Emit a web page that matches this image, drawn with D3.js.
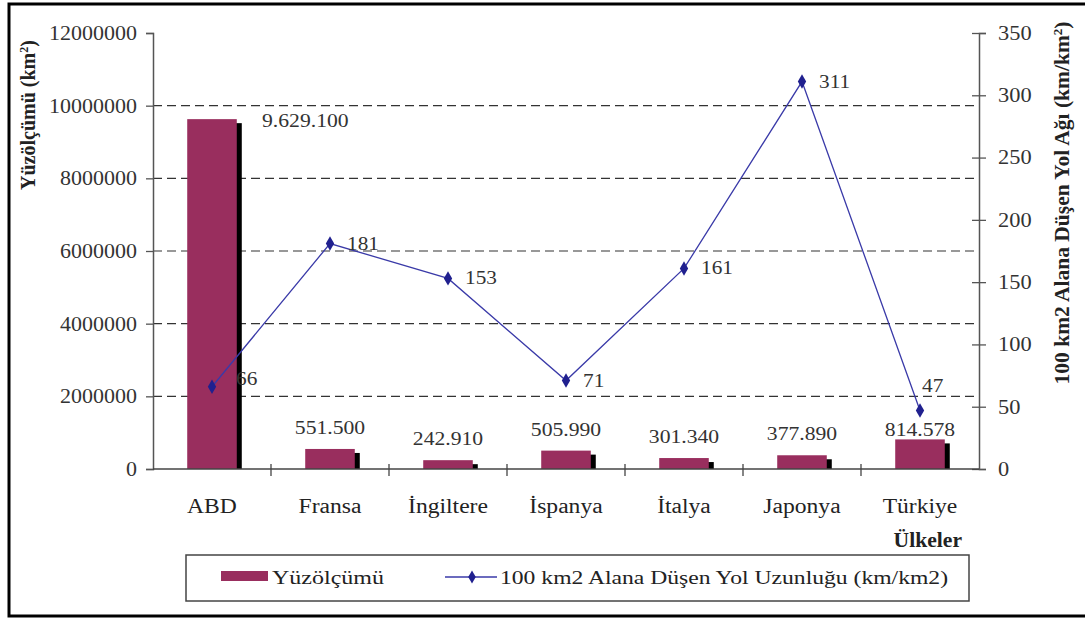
<!DOCTYPE html>
<html>
<head>
<meta charset="utf-8">
<script src="https://cdn.jsdelivr.net/npm/d3@7/dist/d3.min.js"></script>
<style>
  html, body { margin: 0; padding: 0; background: #fff; }
  svg { display: block; font-family: "Liberation Serif", "Times New Roman", serif; }
</style>
</head>
<body>
<svg id="chart" width="1085" height="621"></svg>
<script>
// Countries, land area (km²) and road length per 100 km² (km/km²)
const countries = ["ABD", "Fransa", "İngiltere", "İspanya", "İtalya", "Japonya", "Türkiye"];
const areaValues = [9629100, 551500, 242910, 505990, 301340, 377890, 814578];
const areaLabels = ["9.629.100", "551.500", "242.910", "505.990", "301.340", "377.890", "814.578"];
const roadDensity = [66, 181, 153, 71, 161, 311, 47];
const leftTicks = [0, 2000000, 4000000, 6000000, 8000000, 10000000, 12000000];
const rightTicks = [0, 50, 100, 150, 200, 250, 300, 350];

const svg = d3.select("#chart");
const plot = { left: 153, right: 979, top: 33, bottom: 469 };
const barColor = "#992e5e";
const lineColor = "#3a3aa8";
const markColor = "#20208f";

// widen glyphs a little (the serif face here is narrower than the one used in print)
function stretch(sel, k) {
  sel.each(function () {
    const w = this.getComputedTextLength();
    this.setAttribute("textLength", (w * k).toFixed(1));
    this.setAttribute("lengthAdjust", "spacingAndGlyphs");
  });
}

const x = d3.scaleBand().domain(countries).range([plot.left, plot.right]).paddingInner(0).paddingOuter(0);
const yL = d3.scaleLinear().domain([0, 12000000]).range([plot.bottom, plot.top]);
const yR = d3.scaleLinear().domain([0, 350]).range([plot.bottom, plot.top]);

// outer frame
svg.append("rect").attr("x", 9).attr("y", 4).attr("width", 1100).attr("height", 612)
  .attr("fill", "none").attr("stroke", "#000").attr("stroke-width", 3);

// dashed horizontal gridlines at the left-axis ticks
svg.append("g").selectAll("line")
  .data(leftTicks.filter(d => d > 0 && d < 12000000))
  .join("line")
  .attr("x1", plot.left).attr("x2", plot.right)
  .attr("y1", d => yL(d)).attr("y2", d => yL(d))
  .attr("stroke", "#333").attr("stroke-width", 1.2).attr("stroke-dasharray", "9,5");

// bars with a black drop shadow
const barW = x.bandwidth() * 0.42;
const bars = svg.append("g");
bars.selectAll("rect.shadow").data(countries).join("rect")
  .attr("class", "shadow")
  .attr("x", d => x(d) + (x.bandwidth() - barW) / 2 + 5)
  .attr("y", (d, i) => Math.min(yL(areaValues[i]) + 4, plot.bottom))
  .attr("width", barW)
  .attr("height", (d, i) => Math.max(0, plot.bottom - yL(areaValues[i]) - 4))
  .attr("fill", "#000");
bars.selectAll("rect.bar").data(countries).join("rect")
  .attr("class", "bar")
  .attr("x", d => x(d) + (x.bandwidth() - barW) / 2)
  .attr("y", (d, i) => yL(areaValues[i]))
  .attr("width", barW)
  .attr("height", (d, i) => plot.bottom - yL(areaValues[i]))
  .attr("fill", barColor);

// left axis
const gL = svg.append("g").attr("transform", `translate(${plot.left},0)`)
  .call(d3.axisLeft(yL).tickValues(leftTicks).tickSize(7).tickPadding(9).tickFormat(d => String(d)));
gL.select(".domain").attr("stroke", "#555").attr("stroke-width", 1.5);
gL.selectAll(".tick line").attr("stroke", "#555").attr("stroke-width", 1.3).attr("x2", -7).attr("x1", 1);
gL.selectAll(".tick text").attr("font-family", "Liberation Serif").attr("font-size", 20).attr("fill", "#333");
stretch(gL.selectAll(".tick text"), 1.1);

// right axis
const gR = svg.append("g").attr("transform", `translate(${plot.right},0)`)
  .call(d3.axisRight(yR).tickValues(rightTicks).tickSize(7).tickPadding(12));
gR.select(".domain").attr("stroke", "#555").attr("stroke-width", 1.5);
gR.selectAll(".tick line").attr("stroke", "#555").attr("stroke-width", 1.3).attr("x1", -7).attr("x2", 7);
gR.selectAll(".tick text").attr("font-family", "Liberation Serif").attr("font-size", 20).attr("fill", "#333");
stretch(gR.selectAll(".tick text"), 1.12);

// category axis
const gX = svg.append("g");
gX.append("line").attr("x1", plot.left).attr("x2", plot.right)
  .attr("y1", plot.bottom).attr("y2", plot.bottom)
  .attr("stroke", "#444").attr("stroke-width", 1.6);
gX.selectAll("line.tk").data(countries.slice(1)).join("line")
  .attr("class", "tk")
  .attr("x1", d => x(d)).attr("x2", d => x(d))
  .attr("y1", plot.bottom - 5).attr("y2", plot.bottom + 7)
  .attr("stroke", "#444").attr("stroke-width", 1.3);
const xLabels = gX.selectAll("text").data(countries).join("text")
  .attr("x", d => x(d) + x.bandwidth() / 2)
  .attr("y", 513)
  .attr("text-anchor", "middle")
  .attr("font-size", 20).attr("fill", "#222")
  .text(d => d);
stretch(xLabels, 1.18);

// bar value labels
const areaLabelPos = (i) => {
  const cx = x(countries[i]) + x.bandwidth() / 2;
  const top = yL(areaValues[i]);
  if (i === 0) return { x: cx + 50, y: top + 8, anchor: "start" };
  if (i === 6) return { x: cx, y: top - 3, anchor: "middle" };
  return { x: cx, y: top - 15, anchor: "middle" };
};
const areaText = svg.append("g").selectAll("text").data(areaLabels).join("text")
  .attr("x", (d, i) => areaLabelPos(i).x)
  .attr("y", (d, i) => areaLabelPos(i).y)
  .attr("text-anchor", (d, i) => areaLabelPos(i).anchor)
  .attr("font-size", 19).attr("fill", "#333")
  .text(d => d);
stretch(areaText, 1.14);

// road density line
const line = d3.line()
  .x((d, i) => x(countries[i]) + x.bandwidth() / 2)
  .y(d => yR(d));
svg.append("path").datum(roadDensity)
  .attr("d", line).attr("fill", "none")
  .attr("stroke", lineColor).attr("stroke-width", 1.3);
svg.append("g").selectAll("path").data(roadDensity).join("path")
  .attr("transform", (d, i) => `translate(${x(countries[i]) + x.bandwidth() / 2},${yR(d)})`)
  .attr("d", d3.symbol().type(d3.symbolDiamond).size(60))
  .attr("fill", markColor);

// road density labels
const roadLabelPos = (i) => {
  const px = x(countries[i]) + x.bandwidth() / 2;
  const py = yR(roadDensity[i]);
  if (i === 0) return { x: px + 24, y: py - 2 };
  if (i === 6) return { x: px + 2, y: py - 18 };
  return { x: px + 17, y: py + 6 };
};
const roadText = svg.append("g").selectAll("text").data(roadDensity).join("text")
  .attr("x", (d, i) => roadLabelPos(i).x)
  .attr("y", (d, i) => roadLabelPos(i).y)
  .attr("font-size", 19).attr("fill", "#333")
  .text(d => d);
stretch(roadText, 1.12);

// axis titles
const tL = svg.append("text")
  .attr("transform", "translate(35,115) rotate(-90)")
  .attr("text-anchor", "middle")
  .attr("font-size", 20).attr("font-weight", "bold").attr("fill", "#222");
tL.append("tspan").text("Yüzölçümü (km");
tL.append("tspan").attr("dy", -7).attr("font-size", 12).text("2");
tL.append("tspan").attr("dy", 7).text(")");

const tR = svg.append("text")
  .attr("transform", "translate(1069,203) rotate(-90)")
  .attr("text-anchor", "middle")
  .attr("font-size", 21.5).attr("font-weight", "bold").attr("fill", "#222");
tR.append("tspan").text("100 km2 Alana Düşen Yol Ağı (km/km");
tR.append("tspan").attr("dy", -7).attr("font-size", 13).text("2");
tR.append("tspan").attr("dy", 7).text(")");

const countryTitle = svg.append("text").attr("x", 962).attr("y", 547).attr("text-anchor", "end")
  .attr("font-size", 20).attr("font-weight", "bold").attr("fill", "#222")
  .text("Ülkeler");
stretch(countryTitle, 1.08);

// legend
const lg = svg.append("g");
lg.append("rect").attr("x", 186).attr("y", 555).attr("width", 783).attr("height", 46)
  .attr("fill", "#fff").attr("stroke", "#444").attr("stroke-width", 1.5);
lg.append("rect").attr("x", 221).attr("y", 571).attr("width", 47).attr("height", 10).attr("fill", barColor);
lg.append("text").attr("x", 272).attr("y", 584).attr("font-size", 19).attr("fill", "#222")
  .attr("textLength", 112).attr("lengthAdjust", "spacingAndGlyphs")
  .text("Yüzölçümü");
lg.append("line").attr("x1", 445).attr("x2", 497).attr("y1", 577).attr("y2", 577)
  .attr("stroke", lineColor).attr("stroke-width", 1.5);
lg.append("path").attr("transform", "translate(472,577)")
  .attr("d", d3.symbol().type(d3.symbolDiamond).size(50)).attr("fill", markColor);
lg.append("text").attr("x", 500).attr("y", 584).attr("font-size", 19).attr("fill", "#222")
  .attr("textLength", 448).attr("lengthAdjust", "spacingAndGlyphs")
  .text("100 km2 Alana Düşen Yol Uzunluğu (km/km2)");
</script>
</body>
</html>
